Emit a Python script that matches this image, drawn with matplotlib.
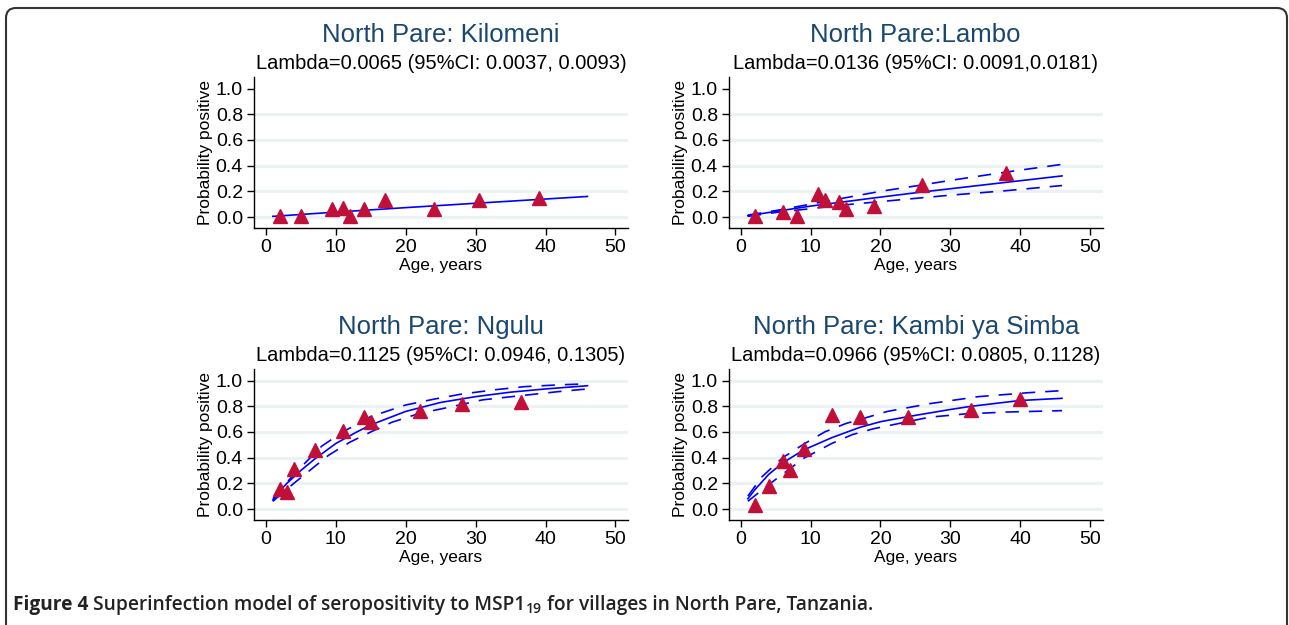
import numpy as np
import matplotlib
matplotlib.use("Agg")
import matplotlib.pyplot as plt
from matplotlib.patches import FancyBboxPatch
from matplotlib.transforms import IdentityTransform

plt.rcParams['font.family'] = ['Liberation Sans', 'DejaVu Sans']

# ---- data ----
titles = ["North Pare: Kilomeni", "North Pare:Lambo",
          "North Pare: Ngulu", "North Pare: Kambi ya Simba"]
subtitles = ["Lambda=0.0065 (95%CI: 0.0037, 0.0093)",
             "Lambda=0.0136 (95%CI: 0.0091,0.0181)",
             "Lambda=0.1125 (95%CI: 0.0946, 0.1305)",
             "Lambda=0.0966 (95%CI: 0.0805, 0.1128)"]

# observed points
kil_age = [2, 5, 9.5, 11, 12, 14, 17, 24, 30.5, 39]
kil_pos = [0.005, 0.005, 0.06, 0.07, 0.005, 0.06, 0.13, 0.065, 0.135, 0.145]
lam_age = [2, 6, 8, 11, 12, 14, 15, 19, 26, 38]
lam_pos = [0.01, 0.04, 0.005, 0.18, 0.13, 0.12, 0.065, 0.085, 0.25, 0.345]
ngu_age = [2, 3, 4, 7, 11, 14, 15, 22, 28, 36.5]
ngu_pos = [0.155, 0.135, 0.31, 0.46, 0.605, 0.72, 0.675, 0.765, 0.815, 0.83]
kam_age = [2, 4, 6, 7, 9, 13, 17, 24, 33, 40]
kam_pos = [0.03, 0.18, 0.375, 0.305, 0.47, 0.735, 0.715, 0.72, 0.77, 0.855]

# fitted curves (central)
kil_fit_age = [1, 10, 20, 30, 40, 46]
kil_fit = [0.005, 0.038, 0.073, 0.107, 0.14, 0.16]
lam_fit_age = [1, 10, 20, 26, 30, 38, 46]
lam_fit = [0.01, 0.085, 0.155, 0.195, 0.22, 0.27, 0.32]
ngu_fit_age = [1, 2, 3, 4, 5, 7, 10, 13, 15, 20, 25, 30, 35, 40, 46]
ngu_fit = [0.07, 0.14, 0.2, 0.25, 0.3, 0.39, 0.51, 0.6, 0.655, 0.76, 0.83, 0.875, 0.91, 0.935, 0.96]
kam_fit_age = [1, 2, 3, 4, 6, 9, 13, 17, 20, 24, 30, 33, 40, 46]
kam_fit = [0.08, 0.15, 0.21, 0.27, 0.36, 0.46, 0.555, 0.635, 0.68, 0.72, 0.775, 0.8, 0.845, 0.862]

# 95% CI bands
lam_up_age = [1, 5, 10, 15, 20, 26, 30, 38, 46]
lam_up = [0.015, 0.05, 0.10, 0.15, 0.20, 0.25, 0.285, 0.35, 0.41]
lam_lo_age = [1, 5, 10, 15, 20, 26, 30, 38, 46]
lam_lo = [0.005, 0.035, 0.065, 0.095, 0.12, 0.15, 0.17, 0.205, 0.245]
ngu_up_age = [1, 4, 8, 11, 15, 20, 24, 28, 33, 37, 42, 46]
ngu_up = [0.08, 0.27, 0.49, 0.6, 0.72, 0.81, 0.855, 0.895, 0.93, 0.953, 0.967, 0.975]
ngu_lo_age = [1, 4, 9, 12, 15, 18, 22, 26, 31, 36, 42, 46]
ngu_lo = [0.06, 0.2, 0.42, 0.52, 0.6, 0.675, 0.745, 0.79, 0.85, 0.88, 0.915, 0.935]
kam_up_age = [1, 3, 6, 9, 12, 15, 21, 27, 34, 41, 46]
kam_up = [0.1, 0.25, 0.4, 0.505, 0.6, 0.665, 0.76, 0.82, 0.875, 0.905, 0.922]
kam_lo_age = [1, 4, 9, 13, 16, 19, 23, 27, 32, 38, 46]
kam_lo = [0.06, 0.19, 0.395, 0.51, 0.58, 0.625, 0.67, 0.715, 0.74, 0.755, 0.766]

yticks = [0.0, 0.2, 0.4, 0.6, 0.8, 1.0]
xticks = [0, 10, 20, 30, 40, 50]

panels = [
    dict(pts=(kil_age, kil_pos), fit=(kil_fit_age, kil_fit), up=None, lo=None, grid_top=False),
    dict(pts=(lam_age, lam_pos), fit=(lam_fit_age, lam_fit),
         up=(lam_up_age, lam_up), lo=(lam_lo_age, lam_lo), grid_top=False),
    dict(pts=(ngu_age, ngu_pos), fit=(ngu_fit_age, ngu_fit),
         up=(ngu_up_age, ngu_up), lo=(ngu_lo_age, ngu_lo), grid_top=True),
    dict(pts=(kam_age, kam_pos), fit=(kam_fit_age, kam_fit),
         up=(kam_up_age, kam_up), lo=(kam_lo_age, kam_lo), grid_top=True),
]

W, H = 1289, 625
fig = plt.figure(figsize=(W / 100, H / 100), dpi=100)

# axes boxes in pixel coords (left, top, right, bottom)
boxes = [(254, 77.3, 628, 228.3), (729, 77.3, 1102.5, 228.3),
         (254, 369.3, 628, 520.3), (729, 369.3, 1102.5, 520.3)]

navy = '#1A476F'
grid_c = '#EAF2F3'
blue = '#0000FF'
red = '#C0103A'

for i, (p, b) in enumerate(zip(panels, boxes)):
    l, t, r, bt = b
    ax = fig.add_axes([l / W, 1 - bt / H, (r - l) / W, (bt - t) / H])
    ax.set_xlim(-1.7, 51.8)
    ax.set_ylim(-0.088, 1.088)
    gl = yticks if p['grid_top'] else yticks[:-1]
    for g in gl:
        ax.axhline(g, color=grid_c, lw=2.2, zorder=0)
    ax.plot(*p['fit'], color=blue, lw=1.2, zorder=3)
    for band in (p['up'], p['lo']):
        if band is not None:
            ax.plot(*band, color=blue, lw=1.2, ls=(0, (8, 6)), zorder=3)
    ax.plot(*p['pts'], ls='none', marker='^', ms=9.5, color=red, mec=red, zorder=4)

    ax.set_xticks(xticks)
    ax.set_yticks(yticks)
    ax.set_yticklabels([f"{v:.1f}" for v in yticks])
    ax.tick_params(direction='out', length=5, width=1, labelsize=14, pad=3)
    for s in ('top', 'right'):
        ax.spines[s].set_visible(False)
    ax.spines['left'].set_linewidth(1)
    ax.spines['bottom'].set_linewidth(1)
    ax.set_xlabel("Age, years", fontsize=12.5, labelpad=1)
    ax.set_ylabel("Probability positive", fontsize=12.5, labelpad=2)

    cx = (l + r) / 2 / W
    fig.text(cx, 1 - (t - 42) / H, titles[i], ha='center', va='center',
             fontsize=18.5, color=navy)
    fig.text(cx, 1 - (t - 14) / H, subtitles[i], ha='center', va='center',
             fontsize=14.5, color='black')

# outer frame with rounded corners (bottom edge falls just below the image)
frame = FancyBboxPatch((6, -20), 1281, 637,
                       boxstyle="round,pad=0,rounding_size=10",
                       transform=IdentityTransform(), fill=False,
                       ec='#333333', lw=1.5)
fig.patches.append(frame)

# caption, built from pieces so the subscript can sit lower
fig.canvas.draw()
rend = fig.canvas.get_renderer()
cap_y = 1 - 605 / H
x = 13 / W
pieces = [("Figure 4", 'bold', 13.8, 0),
          (" Superinfection model of seropositivity to MSP1", 'semibold', 13.8, 0),
          ("19", 'semibold', 10, -4),
          (" for villages in North Pare, Tanzania.", 'semibold', 13.8, 0)]
for txt, wt, fs, dy in pieces:
    tt = fig.text(x, cap_y + dy / H, txt, ha='left', va='center', fontsize=fs,
                  fontweight=wt, family=['Open Sans', 'DejaVu Sans'], color='#222222')
    bb = tt.get_window_extent(renderer=rend)
    x += bb.width / W

fig.savefig("out.png", dpi=100)
